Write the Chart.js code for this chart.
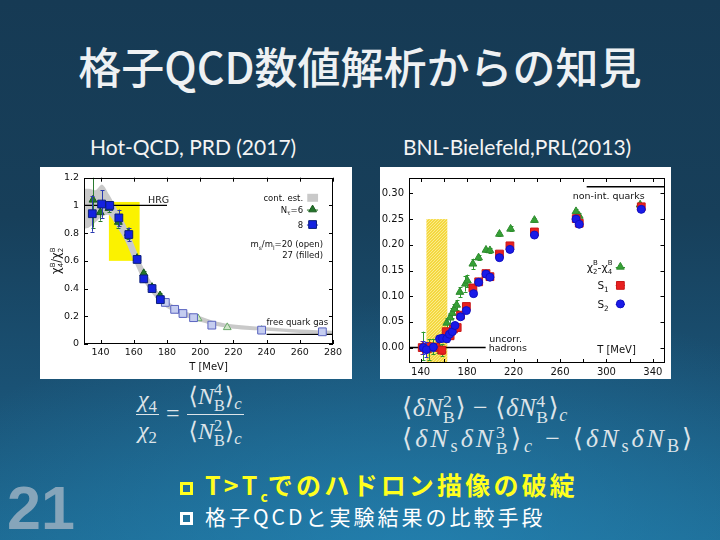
<!DOCTYPE html>
<html><head><meta charset="utf-8">
<script src="https://cdn.jsdelivr.net/npm/chart.js@4.4.1/dist/chart.umd.min.js"></script>
<style>
html,body{margin:0;padding:0;}
body{width:720px;height:540px;overflow:hidden;position:relative;
 background:
  radial-gradient(ellipse 75% 50% at 58% 105%, rgba(38,140,190,0.65), rgba(38,140,190,0) 100%),
  linear-gradient(180deg,#163a54 0%,#173f5a 40%,#1a5275 72%,#1d6890 100%);}
.t{position:absolute;white-space:nowrap;}
#title{left:0;width:720px;text-align:center;top:44px;font:500 43px "Noto Sans CJK JP",sans-serif;color:#eef1f3;line-height:1;}
.sub{font:400 21px Lato,"Open Sans",sans-serif;color:#f4f4f4;top:134px;}
.panel{position:absolute;background:#fff;}
.math, .math *{font-family:"Liberation Serif","DejaVu Serif","Noto Serif",serif;color:#dde4e9;}
.ss{display:inline-block;vertical-align:-0.42em;font-size:0.68em;line-height:0.95;text-align:left;}
.ss span{display:block;}
.frac{display:inline-flex;flex-direction:column;vertical-align:middle;text-align:center;}
.frac>span:first-child{border-bottom:1px solid #dde4e9;padding:0 2px 1px 2px;}
.frac>span:last-child{padding-top:2px;}
sub{font-size:0.7em;vertical-align:-0.3em;line-height:0;}
.op{margin:0 7px;}
.box{display:inline-block;box-sizing:border-box;width:13px;height:13px;border:3px solid;vertical-align:0px;margin-right:12px;}
#b1{left:180px;top:466px;font:700 25px "Noto Sans CJK JP",sans-serif;color:#ffff1e;letter-spacing:3.2px;}
#b2{left:180px;top:501px;font:400 21px "Noto Sans CJK JP",sans-serif;color:#fff;letter-spacing:3px;}
#pg{left:7px;top:478px;font:700 61px "Liberation Sans",Arial,sans-serif;color:#86a5ba;line-height:1;}
</style></head>
<body>
<div id="title" class="t">格子QCD数値解析からの知見</div>
<div class="t sub" style="left:90px;">Hot-QCD, PRD (2017)</div>
<div class="t sub" style="left:403px;">BNL-Bielefeld,PRL(2013)</div>

<div class="panel" style="left:40px;top:167px;width:312px;height:212px;"><canvas id="c1" width="312" height="212"></canvas></div>
<div class="panel" style="left:380px;top:167px;width:291px;height:212px;"><canvas id="c2" width="291" height="212"></canvas></div>

<div class="t math" style="left:136px;top:382px;font-size:24px;">
 <span class="frac"><span><i>χ</i><sub>4</sub></span><span><i>χ</i><sub>2</sub></span></span><span class="op">=</span><span class="frac"><span>⟨<i>N</i><span class="ss"><span>4</span><span>B</span></span>⟩<sub><i>c</i></sub></span><span>⟨<i>N</i><span class="ss"><span>2</span><span>B</span></span>⟩<sub><i>c</i></sub></span></span>
</div>
<div class="t math" style="left:402px;top:392px;font-size:26px;letter-spacing:0.5px;">⟨<i>δN</i><span class="ss"><span>2</span><span>B</span></span>⟩<span class="op">−</span>⟨<i>δN</i><span class="ss"><span>4</span><span>B</span></span>⟩<sub><i>c</i></sub></div>
<div class="t math" style="left:402px;top:423px;font-size:26px;letter-spacing:3px;">⟨<i>δN</i><sub>s</sub><i>δN</i><span class="ss"><span>3</span><span>B</span></span>⟩<sub><i>c</i></sub><span class="op" style="margin:0 10px;">−</span>⟨<i>δN</i><sub>s</sub><i>δN</i><sub>B</sub>⟩</div>

<div id="b1" class="t"><span class="box" style="border-color:#ffff1e;"></span>T&gt;T<sub style="font-size:0.55em;vertical-align:-0.5em;letter-spacing:0">c</sub>でのハドロン描像の破綻</div>
<div id="b2" class="t"><span class="box" style="border-color:#fff;"></span>格子QCDと実験結果の比較手段</div>
<div id="pg" class="t">21</div>

<script>
// ---------------- data: Hot-QCD (left) ----------------
const HQ_X_TICKS = [140,160,180,200,220,240,260,280];
const HQ_Y_TICKS = [0,0.2,0.4,0.6,0.8,1,1.2];
const HQ_Y_LABELS = ['0','0.2','0.4','0.6','0.8','1','1.2'];
const HQ_T8  = [135, 140.6, 145.5, 151, 157, 162, 166, 171, 176];
const HQ_V8  = [0.94, 1.01, 1.00, 0.91, 0.79, 0.61, 0.47, 0.40, 0.32];
const HQ_E8  = [0.13, 0.10, 0.03, 0.06, 0.05, 0.02, 0.02, 0.02, 0.02];
const HQ_T6  = [135.4, 139.8, 145, 150.7, 156.7, 162, 166, 171, 175.8];
const HQ_V6  = [1.04, 0.95, 0.98, 0.88, 0.80, 0.62, 0.51, 0.41, 0.35];
const HQ_E6  = [0.20, 0.06, 0.03, 0.04, 0.04, 0.02, 0.02, 0.02, 0.02];
const HQ_T8_OPEN = [179, 184.6, 189.6, 196, 207, 237, 273.6];
const HQ_V8_OPEN = [0.30, 0.25, 0.22, 0.19, 0.136, 0.10, 0.088];
const HQ_T6_OPEN = [179, 198.7, 216.3, 237];
const HQ_V6_OPEN = [0.30, 0.184, 0.12, 0.10];
const HQ_BAND_T  = [130, 133, 137, 141, 145, 150, 155, 160, 165, 170, 175, 180, 190, 200, 210, 220, 240, 260, 280];
const HQ_BAND_LO = [0.83, 0.84, 0.88, 0.92, 0.93, 0.84, 0.74, 0.60, 0.47, 0.38, 0.31, 0.26, 0.20, 0.16, 0.13, 0.11, 0.095, 0.08, 0.072];
const HQ_BAND_HI = [1.12, 1.12, 1.11, 1.15, 1.08, 0.97, 0.86, 0.72, 0.57, 0.46, 0.37, 0.31, 0.24, 0.20, 0.16, 0.14, 0.12, 0.105, 0.096];
const HQ_HRG_T = [130, 180], HQ_HRG_V = [1, 1];
const HQ_FQG_T = [240, 280], HQ_FQG_V = [0.069, 0.069];
const HQ_TC_BOX = [145, 163.5, 0.6, 1.025];   // T from, T to, value from, value to

// ---------------- data: BNL-Bielefeld (right) ----------------
const BB_X_TICKS = [140,160,180,200,220,240,260,280,300,320,340];
const BB_X_LABELED = [140,180,220,260,300,340];
const BB_Y_TICKS = [0,0.05,0.10,0.15,0.20,0.25,0.30];
const BB_Y_LABELS = ['0.00','0.05','0.10','0.15','0.20','0.25','0.30'];
const BB_T_G = [142, 147, 151, 155, 158, 160.5, 162.5, 165.4, 167.3, 169, 171, 173.8, 178.6, 180.3, 185, 189.9, 196.3, 199.7, 207.9, 217.5, 238, 273.8, 276.6, 329];
const BB_V_G = [0.003, -0.004, 0.002, 0.004, -0.005, 0.022, 0.048, 0.058, 0.067, 0.075, 0.083, 0.108, 0.124, 0.13, 0.163, 0.175, 0.19, 0.189, 0.221, 0.231, 0.248, 0.265, 0.256, 0.278];
const BB_E_G = [0.028, 0.02, 0.015, 0.015, 0.012, 0.01, 0.01, 0.01, 0.01, 0.01, 0.01, 0.01, 0.015, 0.012, 0.01, 0.005, 0.004, 0.004, 0.004, 0.005, 0.004, 0.005, 0.005, 0.004];
const BB_T_R = [141.4, 147, 152.7, 158.3, 162, 165.4, 168.2, 171.5, 174.4, 179.4, 185, 190, 196.3, 199.7, 207.9, 216.9, 238, 274, 276.6, 330];
const BB_V_R = [0.0, 0.001, 0.001, -0.005, 0.031, 0.023, 0.036, 0.039, 0.063, 0.08, 0.116, 0.128, 0.144, 0.138, 0.182, 0.198, 0.225, 0.251, 0.242, 0.274];
const BB_E_R = [0.012, 0.01, 0.008, 0.008, 0.006, 0.006, 0.006, 0.006, 0.005, 0.006, 0.005, 0.004, 0.004, 0.004, 0.004, 0.004, 0.004, 0.004, 0.004, 0.004];
const BB_T_B = [142.3, 145, 151, 156.3, 159, 162.5, 164.8, 167.3, 169.6, 174.4, 179.4, 185.6, 190, 196.3, 199.7, 207.9, 216.9, 238, 273.8, 276.6, 330];
const BB_V_B = [0.0, -0.004, 0.001, 0.017, 0.018, 0.017, 0.026, 0.031, 0.043, 0.06, 0.072, 0.105, 0.127, 0.143, 0.137, 0.175, 0.191, 0.219, 0.25, 0.24, 0.269];
const BB_E_B = [0.012, 0.015, 0.008, 0.006, 0.006, 0.006, 0.005, 0.005, 0.005, 0.005, 0.005, 0.004, 0.004, 0.004, 0.004, 0.004, 0.004, 0.004, 0.004, 0.004, 0.004];
const BB_HAD_T = [130, 196], BB_HAD_V = [0, 0];
const BB_NIQ_T = [283, 350], BB_NIQ_V = [0.313, 0.313];
const BB_TC_BOX = [145, 163, -0.03, 0.25];

// ---------------- helpers ----------------
const FONT = '"DejaVu Sans", Verdana, sans-serif';
const xy = (xs, ys) => xs.map((v, i) => ({x: v, y: ys[i]}));

function marker(ctx, style, x, y, r, fill, stroke, lw) {
  ctx.save(); ctx.fillStyle = fill; ctx.strokeStyle = stroke; ctx.lineWidth = lw || 1; ctx.beginPath();
  if (style === 'triangle') { ctx.moveTo(x, y - r); ctx.lineTo(x + r * 0.866, y + r * 0.5); ctx.lineTo(x - r * 0.866, y + r * 0.5); ctx.closePath(); }
  else if (style === 'rect') { const s = r * 0.707; ctx.rect(x - s, y - s, 2 * s, 2 * s); }
  else { ctx.arc(x, y, r, 0, Math.PI * 2); }
  ctx.fill(); ctx.stroke(); ctx.restore();
}
function rich(ctx, parts, x, y, size, align) {
  ctx.save(); ctx.fillStyle = '#111'; ctx.textBaseline = 'alphabetic';
  let w = 0;
  parts.forEach(p => { ctx.font = `${size * (p[1] || 1)}px ${FONT}`; if (p[3] !== 0) w += ctx.measureText(p[0]).width; });
  let cx = align === 'right' ? x - w : align === 'center' ? x - w / 2 : x;
  parts.forEach(p => { ctx.font = `${size * (p[1] || 1)}px ${FONT}`; ctx.fillText(p[0], cx, y + (p[2] || 0) * size); if (p[3] !== 0) cx += ctx.measureText(p[0]).width; });
  ctx.restore();
}
function frameTicks(chart, xt, yt, len) {
  const {ctx, chartArea: a, scales: {x, y}} = chart;
  ctx.save(); ctx.strokeStyle = '#000'; ctx.lineWidth = 1;
  ctx.strokeRect(Math.round(a.left) + 0.5, Math.round(a.top) + 0.5, Math.round(a.width) - 1, Math.round(a.height) - 1);
  ctx.beginPath();
  xt.forEach(v => { const p = Math.round(x.getPixelForValue(v)) + 0.5; ctx.moveTo(p, a.bottom); ctx.lineTo(p, a.bottom - len); ctx.moveTo(p, a.top); ctx.lineTo(p, a.top + len); });
  yt.forEach(v => { const p = Math.round(y.getPixelForValue(v)) + 0.5; ctx.moveTo(a.left, p); ctx.lineTo(a.left + len, p); ctx.moveTo(a.right, p); ctx.lineTo(a.right - len, p); });
  ctx.stroke(); ctx.restore();
}
const errBars = {
  id: 'errBars',
  beforeDatasetDraw(chart, args) {
    const ds = chart.data.datasets[args.index];
    if (!ds.errs) return;
    const {ctx, chartArea: a, scales: {y}} = chart;
    ctx.save(); ctx.beginPath(); ctx.rect(a.left, a.top, a.width, a.height); ctx.clip();
    ctx.strokeStyle = ds.errColor || ds.borderColor; ctx.lineWidth = 1; ctx.beginPath();
    args.meta.data.forEach((el, i) => {
      const e = ds.errs[i]; if (!e) return;
      const v = ds.data[i].y, x = Math.round(el.x) + 0.5;
      const y1 = y.getPixelForValue(v - e), y2 = y.getPixelForValue(v + e);
      ctx.moveTo(x, y1); ctx.lineTo(x, y2);
      ctx.moveTo(x - 2, Math.round(y1) + 0.5); ctx.lineTo(x + 2, Math.round(y1) + 0.5);
      ctx.moveTo(x - 2, Math.round(y2) + 0.5); ctx.lineTo(x + 2, Math.round(y2) + 0.5);
    });
    ctx.stroke(); ctx.restore();
  }
};
function pointSet(label, xs, ys, style, r, fill, stroke, errs, errColor) {
  return {label, data: xy(xs, ys), showLine: false, pointStyle: style, pointRadius: r, pointBackgroundColor: fill,
          pointBorderColor: stroke, borderColor: stroke, pointBorderWidth: 1, errs, errColor};
}
function lineSet(label, xs, ys, w) {
  return {label, data: xy(xs, ys), showLine: true, borderColor: '#000', borderWidth: w, pointRadius: 0, fill: false};
}
function axisX(min, max, ticks, labelFn, size, height) {
  return {type: 'linear', min, max, afterBuildTicks: s => { s.ticks = ticks.map(v => ({value: v})); },
          ticks: {autoSkip: false, maxRotation: 0, padding: 3, color: '#111', font: {family: FONT, size}, callback: labelFn},
          grid: {display: false, drawTicks: false}, border: {display: false}, afterFit: s => { s.height = height; }};
}
function axisY(min, max, ticks, labels, size, width) {
  return {type: 'linear', min, max, afterBuildTicks: s => { s.ticks = ticks.map(v => ({value: v})); },
          ticks: {autoSkip: false, padding: 5, color: '#111', font: {family: FONT, size}, callback: (v, i) => labels[i]},
          grid: {display: false, drawTicks: false}, border: {display: false}, afterFit: s => { s.width = width; }};
}
const baseOpts = {responsive: false, animation: false, events: [],
  plugins: {legend: {display: false}, tooltip: {enabled: false}}};

// ---------------- left chart ----------------
const hqDecor = {
  id: 'hqDecor',
  beforeDatasetsDraw(chart) {
    const {ctx, scales: {x, y}} = chart, b = HQ_TC_BOX;
    const x1 = x.getPixelForValue(b[0]), x2 = x.getPixelForValue(b[1]);
    const y1 = y.getPixelForValue(b[3]), y2 = y.getPixelForValue(b[2]);
    ctx.save(); ctx.fillStyle = '#fbf200'; ctx.fillRect(x1, y1, x2 - x1, y2 - y1); ctx.restore();
  },
  afterDraw(chart) {
    const {ctx, chartArea: a, scales: {x, y}} = chart;
    frameTicks(chart, HQ_X_TICKS, HQ_Y_TICKS, 4);
    const X = v => x.getPixelForValue(v), Y = v => y.getPixelForValue(v);
    rich(ctx, [['HRG']], X(168.6), Y(1.02), 9.5, 'left');
    rich(ctx, [['free quark gas']], X(240), Y(0.139), 8.5, 'left');
    rich(ctx, [['cont. est.']], X(262), Y(1.034), 8.5, 'right');
    ctx.save(); ctx.fillStyle = '#c9c9c9'; ctx.fillRect(X(264.5), Y(1.055) - 4, X(271) - X(264.5), 8); ctx.restore();
    rich(ctx, [['N'], ['τ', 0.7, 0.25], ['=6']], X(262), Y(0.948), 8.5, 'right');
    ctx.save(); ctx.strokeStyle = '#1f6f1f'; ctx.beginPath(); ctx.moveTo(X(264.3), Y(0.97) + 0.5); ctx.lineTo(X(271), Y(0.97) + 0.5); ctx.stroke(); ctx.restore();
    marker(ctx, 'triangle', X(267.7), Y(0.97), 4.5, '#23742a', '#1a5a1f');
    rich(ctx, [['8']], X(262), Y(0.838), 8.5, 'right');
    ctx.save(); ctx.strokeStyle = '#1a2ad0'; ctx.beginPath(); ctx.moveTo(X(264.3), Y(0.862) + 0.5); ctx.lineTo(X(271), Y(0.862) + 0.5); ctx.stroke(); ctx.restore();
    marker(ctx, 'rect', X(267.7), Y(0.862), 5.5, '#1422e0', '#0c1f7a');
    rich(ctx, [['m'], ['s', 0.7, 0.25], ['/m'], ['l', 0.7, 0.25], ['=20 (open)']], X(274), Y(0.697), 8.5, 'right');
    rich(ctx, [['27 (filled)']], X(274), Y(0.623), 8.5, 'right');
    // axis titles
    rich(ctx, [['T [MeV]']], (a.left + a.right) / 2, a.bottom + 26, 10, 'center');
    ctx.save(); ctx.translate(17, (a.top + a.bottom) / 2); ctx.rotate(-Math.PI / 2);
    rich(ctx, [['χ', 1.15], ['B', 0.7, -0.55, 0], ['4', 0.7, 0.3], ['/χ', 1.15], ['B', 0.7, -0.55, 0], ['2', 0.7, 0.3]], 0, 3, 10, 'center');
    ctx.restore();
  }
};
new Chart(document.getElementById('c1'), {
  type: 'line',
  data: {datasets: [
    pointSet('8', HQ_T8, HQ_V8, 'rect', 5.5, '#1422e0', '#0c1f7a', HQ_E8, '#2a3ab0'),
    pointSet('Nt=6', HQ_T6, HQ_V6, 'triangle', 4.5, '#23742a', '#1a5a1f', HQ_E6, '#2a7a30'),
    pointSet('8 open', HQ_T8_OPEN, HQ_V8_OPEN, 'rect', 5.5, '#c5cdf0', '#5a64c0', null),
    pointSet('6 open', HQ_T6_OPEN, HQ_V6_OPEN, 'triangle', 4.5, '#cfe6c8', '#6aa86a', null),
    lineSet('HRG', HQ_HRG_T, HQ_HRG_V, 1.3),
    lineSet('free quark gas', HQ_FQG_T, HQ_FQG_V, 1.3),
    {label: 'band lo', data: xy(HQ_BAND_T, HQ_BAND_LO), showLine: true, borderWidth: 0, borderColor: 'rgba(0,0,0,0)', pointRadius: 0, fill: false, tension: 0.3},
    {label: 'cont. est.', data: xy(HQ_BAND_T, HQ_BAND_HI), showLine: true, borderWidth: 0, borderColor: 'rgba(0,0,0,0)', pointRadius: 0, fill: '-1', backgroundColor: '#c9c9c9', tension: 0.3}
  ]},
  options: Object.assign({}, baseOpts, {
    layout: {padding: {left: 0, top: 10, right: 19, bottom: 0}},
    scales: {
      x: axisX(130, 280, HQ_X_TICKS, v => String(v), 9.5, 35),
      y: axisY(0, 1.2, HQ_Y_TICKS, HQ_Y_LABELS, 9.5, 44)
    }
  }),
  plugins: [hqDecor, errBars]
});

// ---------------- right chart ----------------
function yellowPattern(ctx) {
  const c = document.createElement('canvas'); c.width = 3; c.height = 3;
  const g = c.getContext('2d'); g.fillStyle = '#f4d840'; g.fillRect(0, 0, 3, 3);
  g.fillStyle = '#fbeb8c'; g.fillRect(0, 0, 1, 1); g.fillRect(2, 1, 1, 1); g.fillRect(1, 2, 1, 1);
  return ctx.createPattern(c, 'repeat');
}
const bbDecor = {
  id: 'bbDecor',
  beforeDatasetsDraw(chart) {
    const {ctx, scales: {x, y}} = chart, b = BB_TC_BOX;
    const x1 = x.getPixelForValue(b[0]), x2 = x.getPixelForValue(b[1]);
    const y1 = y.getPixelForValue(b[3]), y2 = y.getPixelForValue(b[2]);
    ctx.save(); ctx.fillStyle = yellowPattern(ctx); ctx.fillRect(x1, y1, x2 - x1, y2 - y1); ctx.restore();
  },
  afterDraw(chart) {
    const {ctx, scales: {x, y}} = chart;
    frameTicks(chart, BB_X_TICKS, BB_Y_TICKS, 4);
    const X = v => x.getPixelForValue(v), Y = v => y.getPixelForValue(v);
    rich(ctx, [['non-int. quarks']], X(271), Y(0.290), 9.5, 'left');
    rich(ctx, [['uncorr.']], X(199), Y(0.0104), 9.5, 'left');
    rich(ctx, [['hadrons']], X(198.6), Y(-0.007), 9.5, 'left');
    rich(ctx, [['T [MeV]']], X(292), Y(-0.0107), 10, 'left');
    rich(ctx, [['χ', 1.1], ['B', 0.7, -0.6, 0], ['2', 0.7, 0.3], ['-χ', 1.1], ['B', 0.7, -0.6, 0], ['4', 0.7, 0.3]], X(305), Y(0.149), 10, 'right');
    rich(ctx, [['S'], ['1', 0.7, 0.3]], X(302), Y(0.114), 10.5, 'right');
    rich(ctx, [['S'], ['2', 0.7, 0.3]], X(302), Y(0.078), 10.5, 'right');
    const legendRow = (v, col, style, r, fill, stroke) => {
      ctx.save(); ctx.strokeStyle = col; ctx.lineWidth = 1; ctx.beginPath();
      ctx.moveTo(X(308), Math.round(Y(v)) + 0.5); ctx.lineTo(X(316), Math.round(Y(v)) + 0.5); ctx.stroke(); ctx.restore();
      marker(ctx, style, X(312), Y(v), r, fill, stroke);
    };
    legendRow(0.157, '#2e9a2e', 'triangle', 4.5, '#35a035', '#2e8a2e');
    legendRow(0.121, '#e02020', 'rect', 5.5, '#e82020', '#c81818');
    legendRow(0.085, '#1a1ae0', 'circle', 4, '#1a1ae8', '#1010c0');
  }
};
new Chart(document.getElementById('c2'), {
  type: 'line',
  data: {datasets: [
    pointSet('S2', BB_T_B, BB_V_B, 'circle', 4, '#1a1ae8', '#1010c0', BB_E_B, '#3030d0'),
    pointSet('S1', BB_T_R, BB_V_R, 'rect', 5.5, '#e82020', '#c81818', BB_E_R, '#d02020'),
    pointSet('chi2-chi4', BB_T_G, BB_V_G, 'triangle', 4.5, '#35a035', '#2e8a2e', BB_E_G, '#2e9a2e'),
    lineSet('uncorr. hadrons', BB_HAD_T, BB_HAD_V, 1.5),
    lineSet('non-int. quarks', BB_NIQ_T, BB_NIQ_V, 1.5)
  ]},
  options: Object.assign({}, baseOpts, {
    layout: {padding: {left: 0, top: 5, right: 3, bottom: 0}},
    scales: {
      x: axisX(130, 350, BB_X_TICKS, v => BB_X_LABELED.includes(v) ? String(v) : '', 10, 16),
      y: axisY(-0.03, 0.33, BB_Y_TICKS, BB_Y_LABELS, 10, 29)
    }
  }),
  plugins: [bbDecor, errBars]
});
</script>
</body></html>
